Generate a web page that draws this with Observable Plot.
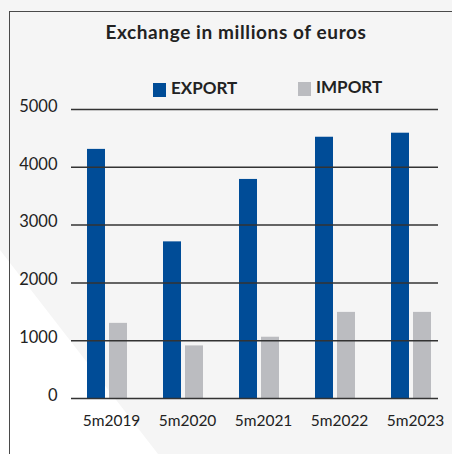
<!DOCTYPE html>
<html>
<head>
<meta charset="utf-8">
<script src="https://cdn.jsdelivr.net/npm/d3@7"></script>
<script src="https://cdn.jsdelivr.net/npm/@observablehq/plot@0.6"></script>
<style>
  html, body { margin: 0; padding: 0; background: #f5f5f5; }
  body { width: 452px; height: 454px; position: relative; overflow: hidden; font-family: Lato, "Open Sans", sans-serif; color: #222; }
  #wedge { position: absolute; left: 0; top: 0; width: 452px; height: 454px; background: #ffffff;
           clip-path: polygon(0px 250px, 158px 454px, 0px 454px); }
  #frame { position: absolute; left: 9px; top: 11px; width: 460px; height: 460px;
           border-left: 1.5px solid #4a4a4a; border-top: 1.5px solid #4a4a4a; }
  #title { position: absolute; left: 0; width: 472px; top: 21px; text-align: center;
           font-weight: 700; font-size: 19px; letter-spacing: 0.6px; line-height: 22px; color: #222; }
  .sw { position: absolute; width: 13px; height: 14px; }
  .lg { position: absolute; font-weight: 700; font-size: 17px; line-height: 18px; color: #222; }
  #chart { position: absolute; left: 0; top: 95px; }
</style>
</head>
<body>
<div id="wedge"></div>
<div id="frame"></div>
<div id="title">Exchange in millions of euros</div>
<div class="sw" id="swE" style="left:153px; top:83px;"></div>
<div class="lg" id="lgE" style="left:171px; top:79px;"></div>
<div class="sw" id="swI" style="left:298px; top:82px;"></div>
<div class="lg" id="lgI" style="left:316px; top:78px;"></div>
<div id="chart"></div>
<script>
const periods = ["5m2019", "5m2020", "5m2021", "5m2022", "5m2023"];
const exportValues = [4310, 2710, 3790, 4520, 4590];
const importValues = [1300, 910, 1060, 1490, 1490];
const seriesNames = ["EXPORT", "IMPORT"];
const seriesColors = ["#004c97", "#bbbcc0"];
const yTicks = [0, 1000, 2000, 3000, 4000, 5000];

document.getElementById("swE").style.background = seriesColors[0];
document.getElementById("swI").style.background = seriesColors[1];
document.getElementById("lgE").textContent = seriesNames[0];
document.getElementById("lgI").textContent = seriesNames[1];

const exportRows = periods.map((p, i) => ({period: p, value: exportValues[i]}));
const importRows = periods.map((p, i) => ({period: p, value: importValues[i]}));

const chart = Plot.plot({
  width: 452,
  height: 359,
  marginLeft: 71,
  marginRight: 14,
  marginTop: 14,
  marginBottom: 56,
  style: {background: "transparent", fontFamily: "Lato, 'Open Sans', sans-serif", color: "#222"},
  x: {domain: periods, paddingInner: 0.48, paddingOuter: 0.125, align: 0.68, label: null},
  y: {domain: [0, 5000], label: null},
  marks: [
    Plot.rectY(exportRows, {x: "period", y: "value", fill: seriesColors[0], insetRight: 22}),
    Plot.rectY(importRows, {x: "period", y: "value", fill: seriesColors[1], insetLeft: 22}),
    Plot.ruleY(yTicks, {stroke: "#333", strokeWidth: 1.5}),
    Plot.axisY({ticks: yTicks, tickFormat: d => String(d), tickSize: 0, tickPadding: 14, dy: -3, fontSize: 16.5, label: null}),
    Plot.axisX({tickSize: 0, tickPadding: 16, dx: 4, fontSize: 15.5, label: null})
  ]
});
document.getElementById("chart").appendChild(chart);
</script>
</body>
</html>
